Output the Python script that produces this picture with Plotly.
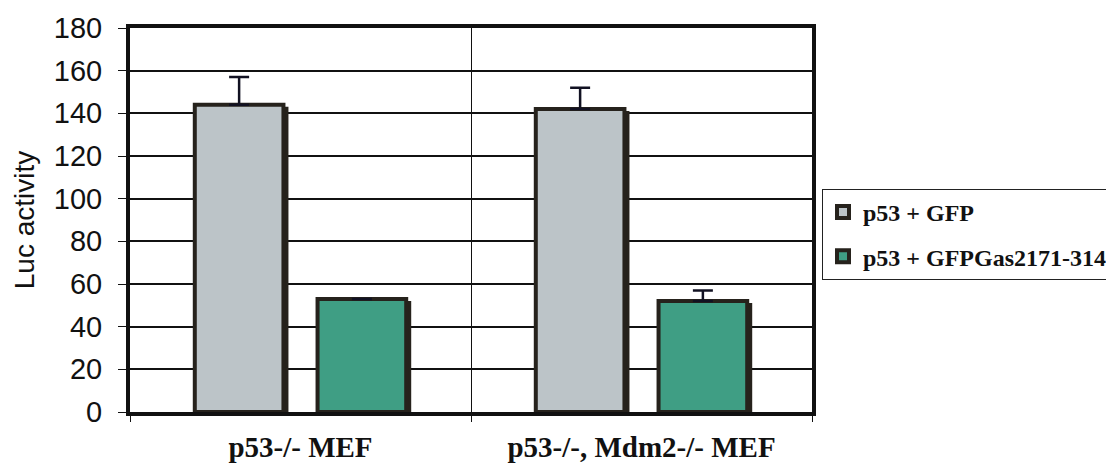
import plotly.graph_objects as go

# Luciferase reporter activity per cell line
categories = ["p53-/- MEF", "p53-/-, Mdm2-/- MEF"]
series_names = ["p53 + GFP", "p53 + GFPGas2171-314"]
gfp_values = [144, 142]
gfp_errors = [13, 10]
gas_values = [53, 52]
gas_errors = [None, 5]

y_ticks = [0, 20, 40, 60, 80, 100, 120, 140, 160, 180]

# layout geometry (pixels)
W, H = 1106, 466
M_L, M_R, M_T, M_B = 130, 294, 28, 54
plot_w = W - M_L - M_R
plot_h = H - M_T - M_B
cat_px = plot_w / len(categories)

bar_width = 0.26
offsets = [-0.31, 0.05]
shadow_dx = 5 / cat_px                              # shadow shift, category units
shadow_dy = 2 * (y_ticks[-1] - y_ticks[0]) / plot_h  # shadow drop, data units

fills = ["#bcc4c8", "#3f9e84"]
edge = "#26221c"

series = [(gfp_values, gfp_errors), (gas_values, gas_errors)]

fig = go.Figure()

for i, (vals, errs) in enumerate(series):
    # drop shadow to the right of each bar
    fig.add_trace(go.Bar(
        x=categories,
        y=[v - shadow_dy for v in vals],
        width=bar_width,
        offset=offsets[i] + shadow_dx,
        marker=dict(color=edge, line=dict(width=0)),
        showlegend=False,
        hoverinfo="skip",
    ))
    fig.add_trace(go.Bar(
        x=categories,
        y=vals,
        name=f"<b>{series_names[i]}</b>",
        legendgroup=series_names[i],
        width=bar_width,
        offset=offsets[i],
        marker=dict(color=fills[i], line=dict(color=edge, width=4)),
        error_y=dict(type="data", symmetric=False, array=errs,
                     arrayminus=[0] * len(errs), color="#111122",
                     thickness=2.5, width=10),
    ))

fig.update_layout(
    width=W, height=H,
    margin=dict(l=M_L, r=M_R, t=M_T, b=M_B, autoexpand=False),
    barmode="overlay",
    paper_bgcolor="white",
    plot_bgcolor="white",
    showlegend=True,
    legend=dict(
        x=(822 - M_L) / plot_w, y=(H - M_B - 189) / plot_h,
        xanchor="left", yanchor="top",
        bordercolor="#222", borderwidth=1, bgcolor="white",
        font=dict(family="Liberation Serif", size=24, color="#111"),
        tracegroupgap=10,
        traceorder="grouped",
    ),
    xaxis=dict(
        type="category",
        range=[-0.5, 1.5],
        tickson="boundaries",
        tickvals=categories,
        ticktext=[f"<b>{c}</b>" for c in categories],
        showgrid=True, gridcolor="#111", gridwidth=1,
        showline=True, linecolor="#111", linewidth=4, mirror=True,
        ticks="outside", ticklen=6, tickcolor="#111", tickwidth=1,
        tickfont=dict(family="Liberation Serif", size=29, color="#111"),
        ticklabelstandoff=6,
        zeroline=False,
        automargin=False,
    ),
    yaxis=dict(
        range=[y_ticks[0], y_ticks[-1]],
        tickvals=y_ticks,
        showgrid=True, gridcolor="#111", gridwidth=1.5,
        showline=True, linecolor="#111", linewidth=4, mirror=True,
        ticks="outside", ticklen=8, tickcolor="#111", tickwidth=1,
        tickfont=dict(family="Liberation Sans", size=29, color="#111"),
        ticklabelstandoff=10,
        zeroline=False,
        automargin=False,
        title=dict(text="Luc activity",
                   font=dict(family="Liberation Sans", size=28, color="#111"),
                   standoff=12),
    ),
)

fig.write_html("out.html")
